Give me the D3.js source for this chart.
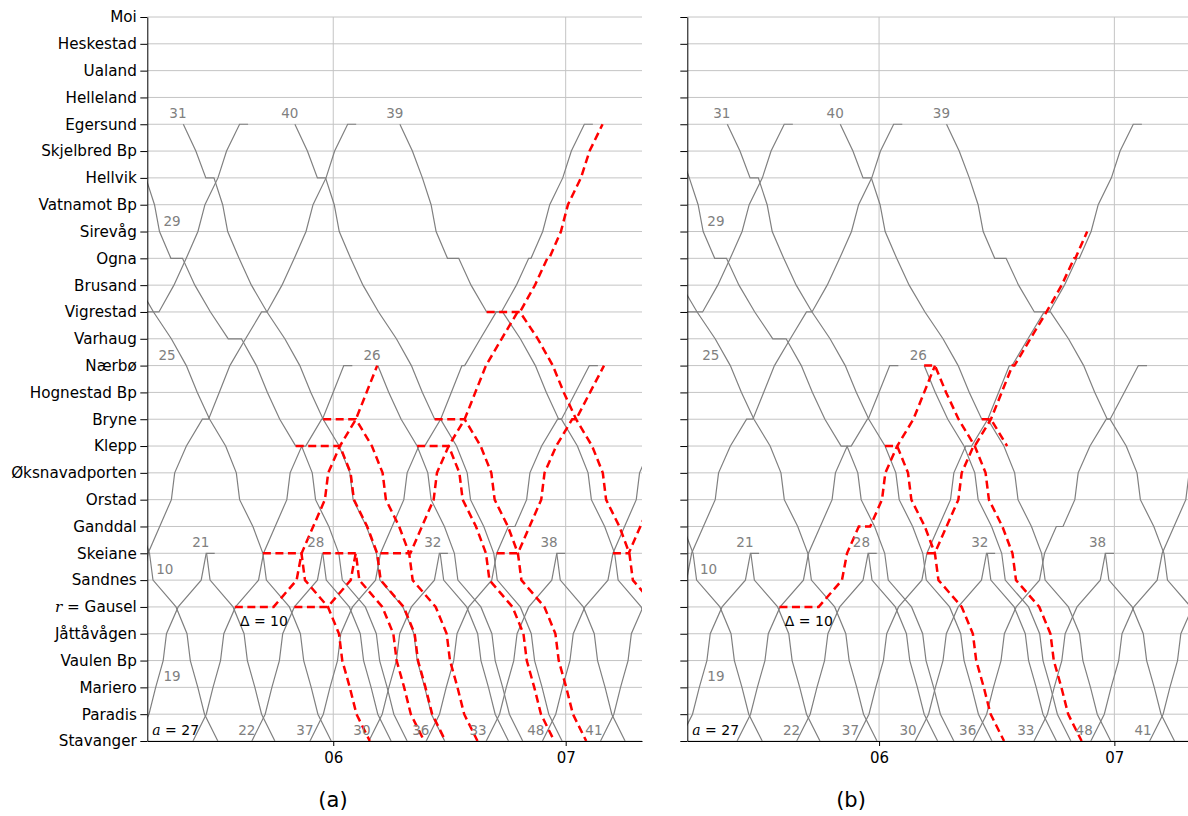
<!DOCTYPE html>
<html>
<head>
<meta charset="utf-8">
<script src="https://cdn.jsdelivr.net/npm/d3@7"></script>
<style>
  body { margin: 0; background: #fff; }
  text { font-family: "DejaVu Sans", sans-serif; }
</style>
</head>
<body>
<svg id="chart" width="1188" height="816"></svg>
<script>
// Stations from top (Moi) to bottom (Stavanger)
const stations = ["Moi", "Heskestad", "Ualand", "Helleland", "Egersund", "Skjelbred Bp",
  "Hellvik", "Vatnamot Bp", "Sirevåg", "Ogna", "Brusand", "Vigrestad", "Varhaug", "Nærbø",
  "Hognestad Bp", "Bryne", "Klepp", "Øksnavadporten", "Orstad", "Ganddal", "Skeiane",
  "Sandnes", "Gausel", "Jåttåvågen", "Vaulen Bp", "Mariero", "Paradis", "Stavanger"];

// running minutes, segment s -> s+1 (downwards on the chart), s = 4..26
const downRun = [3.23, 2.58, 2.25, 1.29, 2.94, 3.18, 4.03, 4.6, 3.87, 2.84, 3.18, 4.13,
  2.76, 0.85, 3.43, 2.58, 0.9, 5.94, 2.84, 0.85, 1.94, 1.73, 3.43];
// running minutes, segment s+1 -> s (upwards), s = 4..26
const upRun = [3.36, 2.22, 3.36, 1.81, 3.02, 3.18, 3.87, 4.13, 4.05, 2.75, 2.75, 4.13,
  3.02, 0.85, 3.02, 3.0, 1.29, 5.94, 3.02, 0.85, 1.94, 1.73, 3.43];

// timetable (minutes after midnight), dep = time at the first station
// waits: [station, minutes], slow: [station, extra minutes on the next segment]
const grayTrains = [
  { id: "u0b", from: 27, to: 4, dep: 264, waits: [[11, 5.1]], tail: true },
  { id: "u0a", from: 27, to: 4, dep: 294, waits: [[15, 1.6], [11, 1.4]], tail: true },
  { id: "19", from: 27, to: 20, dep: 309, tail: true },
  { id: "27", from: 27, to: 13, dep: 323.8, waits: [[16, 1.0], [15, 0.2]], tail: true },
  { id: "22", from: 27, to: 20, dep: 339, tail: true },
  { id: "37", from: 27, to: 4, dep: 354, waits: [[16, 1.5], [13, 0.7], [11, 1.3], [9, 0.6]], tail: true },
  { id: "30", from: 27, to: 20, dep: 369.2, tail: true },
  { id: "36", from: 27, to: 13, dep: 384, waits: [[19, 1.7], [15, 1.0]], slow: [[15, 0.85], [14, 0.85]], tail: true },
  { id: "33", from: 27, to: 20, dep: 399.5, tail: true },
  { id: "48", from: 27, to: 4, dep: 414, waits: [[16, 1.5], [13, 0.7]], tail: true },
  { id: "41", from: 27, to: 20, dep: 429, tail: true },
  { id: "10", from: 13, to: 27, dep: 292.8 },
  { id: "21", from: 20, to: 27, dep: 327.3 },
  { id: "25", from: 4, to: 27, dep: 294.1 },
  { id: "29", from: 4, to: 27, dep: 305.8, waits: [[9, 3.0], [12, 3.4], [16, 1.5]] },
  { id: "28", from: 20, to: 27, dep: 357.3 },
  { id: "31", from: 4, to: 27, dep: 321.3, waits: [[6, 2.1]] },
  { id: "40", from: 4, to: 27, dep: 350.1, waits: [[6, 2.1], [15, 1.5]] },
  { id: "26", from: 13, to: 27, dep: 371.5 },
  { id: "32", from: 20, to: 27, dep: 387.6 },
  { id: "39", from: 4, to: 27, dep: 377.2, waits: [[9, 2.9], [11, 4.1], [15, 0.7]] },
  { id: "38", from: 20, to: 27, dep: 417.7 }
];

// delayed paths, panel (a)
const redA = [
  { id: "27", from: 22, to: 13, dep: 334.6, waits: [[22, 10]] },
  { id: "25", from: 20, to: 27, dep: 341.84, waits: [[20, 9.96]] },
  { id: "22", from: 22, to: 20, dep: 349.97, waits: [[22, 8.6]] },
  { id: "28", from: 20, to: 27, dep: 357.3, waits: [[20, 8.53]] },
  { id: "29", from: 16, to: 27, dep: 350.32, waits: [[16, 11.4]] },
  { id: "31", from: 15, to: 27, dep: 357.4, waits: [[15, 8.45]] },
  { id: "37", from: 20, to: 4, dep: 372.2, waits: [[20, 7.7], [11, 0.6], [9, 0.5]] },
  { id: "26", from: 16, to: 27, dep: 381.65, waits: [[16, 8.15]] },
  { id: "40", from: 15, to: 27, dep: 386.19, waits: [[15, 7.73]] },
  { id: "36", from: 20, to: 13, dep: 402.2, waits: [[20, 5.47], [15, 1.0]], slow: [[15, 0.85], [14, 0.85]] },
  { id: "39", from: 11, to: 27, dep: 399.6, waits: [[11, 8.6]] },
  { id: "48", from: 20, to: 4, dep: 432.2, waits: [[20, 4.07]] }
];

// delayed paths, panel (b)
const redB = [
  { id: "27", from: 22, to: 13, dep: 334.6, waits: [[22, 10], [19, 2.9]] },
  { id: "31", from: 16, to: 27, dep: 361.52, waits: [[16, 3.1]] },
  { id: "26", from: 13, to: 27, dep: 371.5, waits: [[13, 2.75]] },
  { id: "37", from: 20, to: 8, dep: 372.2, waits: [[20, 2.0], [16, 0.3], [13, 0.5], [9, 0.3]] },
  { id: "40", from: 15, to: 16, dep: 386.19, waits: [[15, 2.33]] }
];

// train number labels: text, station, time
const trainLabels = [["31", 4, 319.9], ["40", 4, 348.8], ["39", 4, 375.9], ["29", 8, 318.4],
  ["25", 13, 317.1], ["26", 13, 370.0], ["21", 20, 325.8], ["28", 20, 355.5], ["32", 20, 385.7],
  ["38", 20, 415.7], ["10", 21, 316.5], ["19", 25, 318.4], ["22", 27, 337.7], ["37", 27, 352.7],
  ["30", 27, 367.4], ["36", 27, 382.6], ["33", 27, 397.4], ["48", 27, 412.3], ["41", 27, 427.3]];

const hourTicks = [360, 420];
const hourLabels = ["06", "07"];

const panels = [
  { id: "a", x0: 147.3, x1: 642, domain: [312, 439.7], red: redA, caption: "(a)", capX: 333, names: true },
  { id: "b", x0: 687.3, x1: 1192.8, domain: [311.1, 440], red: redB, caption: "(b)", capX: 851, names: false }
];

const svg = d3.select("#chart");
const y = d3.scaleLinear().domain([0, 27]).range([17, 741]);

function buildPath(tr) {
  const dir = tr.to > tr.from ? 1 : -1;
  const waits = new Map(tr.waits || []);
  const slow = new Map(tr.slow || []);
  const pts = [];
  let t = tr.dep;
  for (let s = tr.from; ; s += dir) {
    pts.push([s, t]);
    if (waits.has(s)) { t += waits.get(s); pts.push([s, t]); }
    if (s === tr.to) break;
    t += (dir > 0 ? downRun[s - 4] : upRun[s - 5]) + (slow.get(s) || 0);
  }
  if (tr.tail) pts.push([tr.to, t + 2.2]);
  return pts;
}

panels.forEach(p => {
  const x = d3.scaleLinear().domain(p.domain).range([p.x0, p.x1]);
  const g = svg.append("g");

  svg.append("clipPath").attr("id", "clip-" + p.id)
    .append("rect")
    .attr("x", p.x0).attr("y", 0)
    .attr("width", p.x1 - p.x0).attr("height", 741.5);

  // grid
  g.selectAll(".hgrid").data(stations).join("line")
    .attr("x1", p.x0).attr("x2", p.x1)
    .attr("y1", (d, i) => y(i)).attr("y2", (d, i) => y(i))
    .attr("stroke", "#c4c4c4").attr("stroke-width", 1);
  g.selectAll(".vgrid").data(hourTicks).join("line")
    .attr("x1", d => x(d)).attr("x2", d => x(d))
    .attr("y1", y(0)).attr("y2", y(27))
    .attr("stroke", "#c4c4c4").attr("stroke-width", 1);

  const plot = g.append("g").attr("clip-path", `url(#clip-${p.id})`);
  const line = d3.line().x(d => x(d[1])).y(d => y(d[0]));

  plot.selectAll(".gray").data(grayTrains).join("path")
    .attr("d", d => line(buildPath(d)))
    .attr("fill", "none")
    .attr("stroke", "#808080")
    .attr("stroke-width", 1.2);

  plot.selectAll(".red").data(p.red).join("path")
    .attr("d", d => line(buildPath(d)))
    .attr("fill", "none")
    .attr("stroke", "#ff0000")
    .attr("stroke-width", 2.5)
    .attr("stroke-dasharray", "8,4.5");

  // train numbers
  g.selectAll(".tlabel").data(trainLabels).join("text")
    .attr("x", d => x(d[2]))
    .attr("y", d => y(d[1]) - 10)
    .attr("text-anchor", "middle")
    .attr("dominant-baseline", "middle")
    .attr("font-size", 13.5)
    .attr("fill", "#808080")
    .text(d => d[0]);

  // annotations
  const aText = g.append("text")
    .attr("x", p.x0 + 5).attr("y", y(27) - 10)
    .attr("dominant-baseline", "middle")
    .attr("font-size", 14);
  aText.append("tspan").attr("font-family", "DejaVu Serif").attr("font-style", "italic").text("a");
  aText.append("tspan").text(" = 27");

  g.append("text")
    .attr("x", x(342.1)).attr("y", y(22) + 15)
    .attr("text-anchor", "middle")
    .attr("dominant-baseline", "middle")
    .attr("font-size", 14)
    .text("Δ = 10");

  // axes
  const yAxis = d3.axisLeft(y)
    .tickValues(d3.range(stations.length))
    .tickFormat(i => p.names ? stations[i] : "")
    .tickSize(7).tickSizeOuter(0).tickPadding(3.5);
  const ya = g.append("g").attr("transform", `translate(${p.x0},0)`).call(yAxis);
  ya.selectAll("text").attr("font-size", 15.2).attr("font-family", "DejaVu Sans").attr("fill", "#000");
  ya.selectAll("line, path").attr("stroke", "#000");
  if (p.names) {
    const gt = ya.selectAll(".tick text").filter(i => i === 22);
    gt.text(null);
    gt.append("tspan").attr("font-family", "DejaVu Serif").attr("font-style", "italic").text("r");
    gt.append("tspan").text(" = Gausel");
  }

  const xAxis = d3.axisBottom(x)
    .tickValues(hourTicks)
    .tickFormat((d, i) => hourLabels[i])
    .tickSize(5).tickSizeOuter(0).tickPadding(6);
  const xa = g.append("g").attr("transform", `translate(0,${y(27)})`).call(xAxis);
  xa.selectAll("text").attr("font-size", 15).attr("font-family", "DejaVu Sans").attr("fill", "#000");
  xa.selectAll("line, path").attr("stroke", "#000");

  g.append("text")
    .attr("x", p.capX).attr("y", 801)
    .attr("text-anchor", "middle")
    .attr("dominant-baseline", "middle")
    .attr("font-family", "Liberation Serif")
    .attr("font-size", 21)
    .text(p.caption);
});
</script>
</body>
</html>
